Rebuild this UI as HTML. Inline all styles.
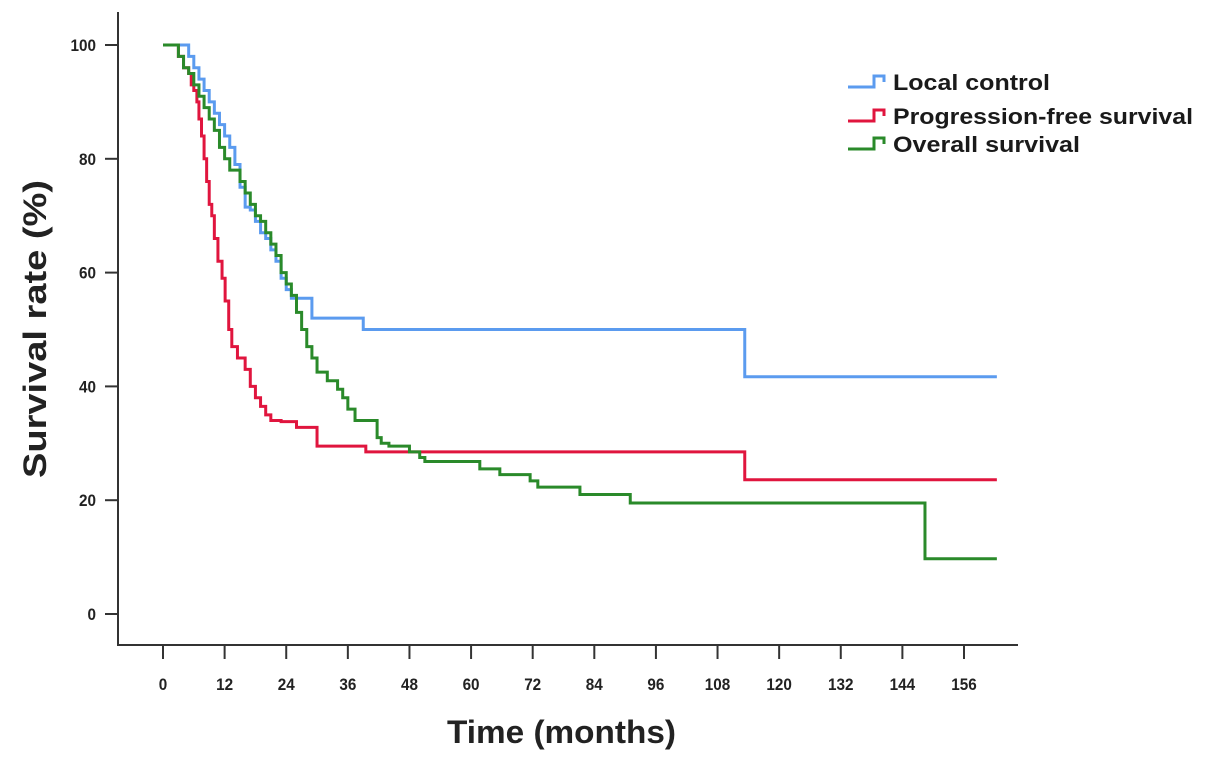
<!DOCTYPE html>
<html><head><meta charset="utf-8"><style>
body{margin:0;background:#fff;}
svg{display:block;font-family:"Liberation Sans",sans-serif;}
.tk{font-weight:bold;font-size:17px;fill:#222;}
</style></head><body>
<svg id="chart" width="1205" height="761">
<g id="axes"></g><g id="series"></g><g id="legend"></g>
</svg>
<script>
const xTicks=[0,12,24,36,48,60,72,84,96,108,120,132,144,156];
const yTicks=[0,20,40,60,80,100];
const seriesNames=["Local control","Progression-free survival","Overall survival"];
const seriesColors=["#5b9bef","#e0153e","#2a8a2a"];
const lcTimes=[0,5,6,7,8,9,10,11,12,13,14,15,16,17,18,19,20,21,22,23,24,25,29,39,113.3,162.4];
const lcValues=[100,98,96,94,92,90,88,86,84,82,79,75,71.5,71,69,67,66,64,62,59,57,55.5,52,50,41.7,41.7];
const pfsTimes=[0,3,4,5,5.5,6,6.6,7,7.5,8,8.5,9,9.5,10,10.7,11.5,12.1,12.8,13.4,14.5,16,17,18,19,20,21,23,26,30,39.5,113.3,162.4];
const pfsValues=[100,98,96,95,93,92,90,87,84,80,76,72,70,66,62,59,55,50,47,45,43,40,38,36.5,35,34,33.8,32.8,29.5,28.5,23.6,23.6];
const osTimes=[0,3,4,5,6,7,8,9,10,11,12,13,15,16,17,18,19,20,21,22,23,24,25,26,27,28,29,30,32,34,35,36,37.4,41.7,42.5,44,48,50,51,61.7,65.6,71.5,73,81.2,91,148.4,162.4];
const osValues=[100,98,96,95,93,91,89,87,85,82,80,78,76,74,72,70,69,67,65,63,60,58,56,53,50,47,45,42.5,41,39.5,38,36,34,31,30,29.5,28.5,27.5,26.8,25.5,24.5,23.4,22.3,21,19.5,9.7,9.7];
const X=m=>163+m*(964-163)/156;
const Y=p=>614-p*(614-45)/100;
const NS="http://www.w3.org/2000/svg";
function mk(tag,attrs,parent,text){const e=document.createElementNS(NS,tag);for(const k in attrs)e.setAttribute(k,attrs[k]);if(text!==undefined)e.textContent=text;parent.appendChild(e);return e;}
const axes=document.getElementById('axes');
let ya=mk('line',{x1:118,y1:12,x2:118,y2:645.5,stroke:'#333','stroke-width':2},axes);


let xa=mk('line',{x1:117,y1:645,x2:1018,y2:645,stroke:'#333','stroke-width':2},axes);


xTicks.forEach(t=>{
  let l=mk('line',{x1:X(t),y1:646,x2:X(t),y2:659,stroke:'#333','stroke-width':2},axes);
  
  
  const s=String(t);
  let tx=mk('text',{x:X(t),y:690,'text-anchor':'middle',class:'tk',textLength:s.length*8.5,lengthAdjust:'spacingAndGlyphs'},axes,s);
  
  
});
yTicks.forEach(t=>{
  let l=mk('line',{x1:105,y1:Y(t),x2:118,y2:Y(t),stroke:'#333','stroke-width':2},axes);
  
  
  const s=String(t);
  let tx=mk('text',{x:96,y:Y(t)+6,'text-anchor':'end',class:'tk',textLength:s.length*8.5,lengthAdjust:'spacingAndGlyphs'},axes,s);
  
  
});
let xt=mk('text',{x:447,y:743,'font-weight':'bold','font-size':32,fill:'#222',textLength:229,lengthAdjust:'spacingAndGlyphs'},axes,'Time (months)');


let yt=mk('text',{x:0,y:0,transform:'translate(46,478) rotate(-90)','font-weight':'bold','font-size':32,fill:'#222',textLength:298,lengthAdjust:'spacingAndGlyphs'},axes,'Survival rate (%)');


const ser=document.getElementById('series');
function stepPath(ts,vs){let d='M'+X(ts[0])+','+Y(vs[0]);for(let i=1;i<ts.length;i++){d+=' H'+X(ts[i])+' V'+Y(vs[i]);}return d;}
const all=[[lcTimes,lcValues],[pfsTimes,pfsValues],[osTimes,osValues]];
const names=['local-control-curve','pfs-curve','overall-survival-curve'];
all.forEach((s,i)=>{
  let p=mk('path',{d:stepPath(s[0],s[1]),fill:'none',stroke:seriesColors[i],'stroke-width':3},ser);
  
  
});
const leg=document.getElementById('legend');
const ly=[82,116,144];
const lw=[157,300,187];
seriesNames.forEach((n,i)=>{
  const y=ly[i];
  let p=mk('path',{d:`M848,${y+5} H874 V${y-6} H884 V${y}`,fill:'none',stroke:seriesColors[i],'stroke-width':3},leg);
  
  
  let t=mk('text',{x:893,y:y+8,'font-weight':'bold','font-size':22,fill:'#1a1a1a',textLength:lw[i],lengthAdjust:'spacingAndGlyphs'},leg,n);
  
  
});
</script>
</body></html>
